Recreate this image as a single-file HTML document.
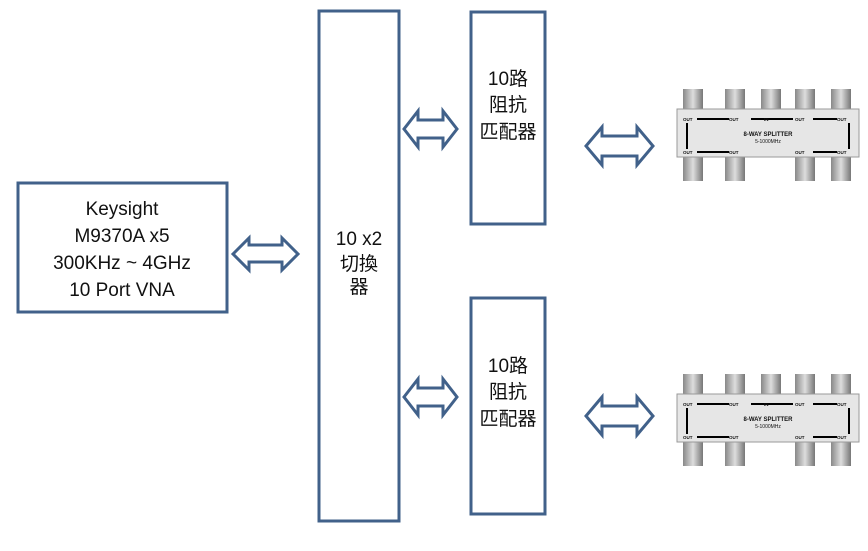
<!DOCTYPE html>
<html><head><meta charset="utf-8"><style>
body{margin:0;background:#fff;width:868px;height:546px;overflow:hidden}
svg text{font-family:"Liberation Sans","Noto Sans CJK SC",sans-serif;fill:#111}
</style></head><body>
<svg width="868" height="546" viewBox="0 0 868 546" xmlns="http://www.w3.org/2000/svg">
<defs>
<linearGradient id="cg" x1="0" x2="1"><stop offset="0" stop-color="#888"/><stop offset="0.5" stop-color="#ddd"/><stop offset="1" stop-color="#777"/></linearGradient>
<g id="spl">
<rect x="6" y="0" width="20" height="24" fill="url(#cg)"/>
<rect x="48" y="0" width="20" height="24" fill="url(#cg)"/>
<rect x="84" y="0" width="20" height="24" fill="url(#cg)"/>
<rect x="118" y="0" width="20" height="24" fill="url(#cg)"/>
<rect x="154" y="0" width="20" height="24" fill="url(#cg)"/>
<rect x="6" y="66" width="20" height="26" fill="url(#cg)"/>
<rect x="48" y="66" width="20" height="26" fill="url(#cg)"/>
<rect x="118" y="66" width="20" height="26" fill="url(#cg)"/>
<rect x="154" y="66" width="20" height="26" fill="url(#cg)"/>
<rect x="0" y="20" width="182" height="48" fill="#e6e6e6" stroke="#999"/>
<path d="M20 30H52M74 30H116M136 30H160M10 34V60M172 34V60M20 63H52M136 63H160" stroke="#000" stroke-width="2"/>
<g font-size="4.5" font-weight="bold">
<text x="6" y="32">OUT</text><text x="52" y="32">OUT</text><text x="87" y="32">IN</text><text x="118" y="32">OUT</text><text x="160" y="32">OUT</text>
<text x="6" y="65">OUT</text><text x="52" y="65">OUT</text><text x="118" y="65">OUT</text><text x="160" y="65">OUT</text>
</g>
<text x="91" y="47" font-size="6" text-anchor="middle" font-weight="bold">8-WAY SPLITTER</text>
<text x="91" y="54" font-size="5" text-anchor="middle">5-1000MHz</text>
</g>
</defs>
<g fill="none" stroke="#41618a" stroke-width="3">
<rect x="18" y="183" width="209" height="129"/>
<rect x="319" y="11" width="80" height="510"/>
<rect x="471" y="12" width="74" height="212"/>
<rect x="471" y="298" width="74" height="216"/>
</g>
<g fill="#fff" stroke="#41618a" stroke-width="3" stroke-linejoin="miter">
<path d="M233 254 L249 238 V245 H282 V238 L298 254 L282 270 V262 H249 V270 Z"/>
<path d="M404 129 L418 111 V120 H443 V111 L457 129 L443 147 V138 H418 V147 Z"/>
<path d="M404 397 L418 379 V388 H443 V379 L457 397 L443 415 V406 H418 V415 Z"/>
<path d="M586 146 L602 127 V136 H637 V127 L653 146 L637 165 V156 H602 V165 Z"/>
<path d="M586 416 L602 397 V406 H637 V397 L653 416 L637 435 V426 H602 V435 Z"/>
</g>
<g font-size="19" text-anchor="middle">
<text x="122" y="215">Keysight</text>
<text x="122" y="242">M9370A x5</text>
<text x="122" y="269">300KHz ~ 4GHz</text>
<text x="122" y="296">10 Port VNA</text>
<text x="359" y="245">10 x2</text>
<text x="359" y="270">切換</text>
<text x="359" y="293">器</text>
<text x="508" y="85">10路</text>
<text x="508" y="111">阻抗</text>
<text x="508" y="138">匹配器</text>
<text x="508" y="372">10路</text>
<text x="508" y="398">阻抗</text>
<text x="508" y="425">匹配器</text>
</g>
<use href="#spl" x="677" y="89"/>
<use href="#spl" x="677" y="374"/>
</svg>
</body></html>
